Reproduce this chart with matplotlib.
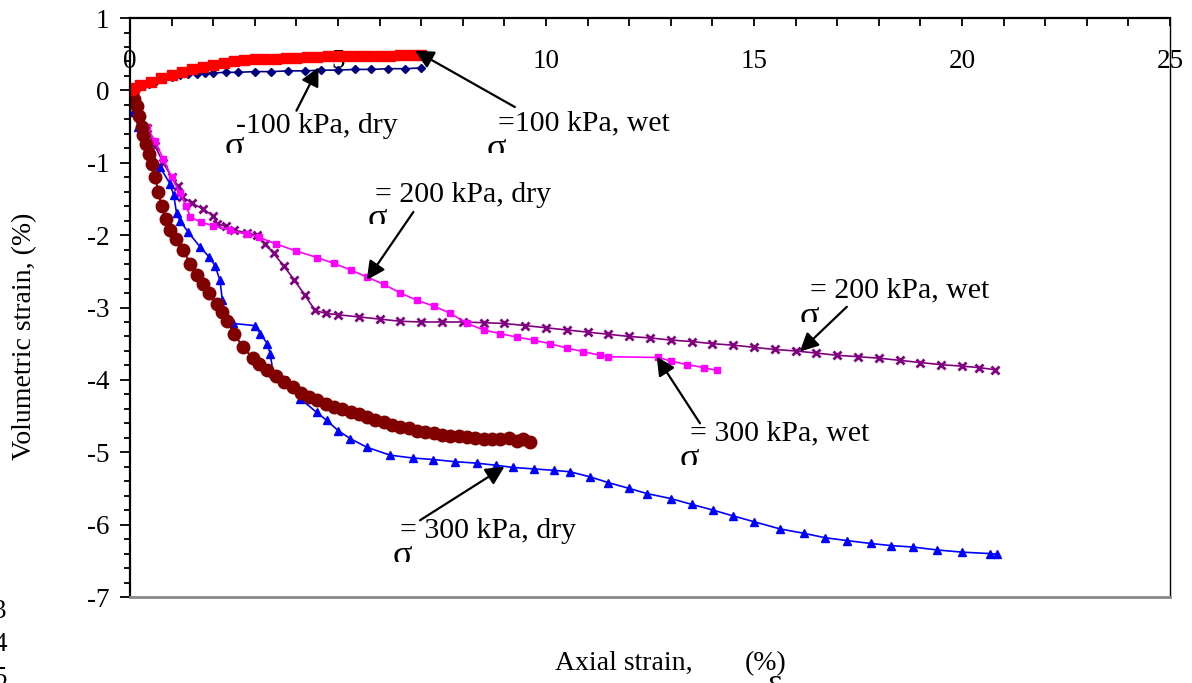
import numpy as np
import matplotlib
matplotlib.use("Agg")
import matplotlib.pyplot as plt
from matplotlib.ticker import MultipleLocator
from matplotlib.transforms import Bbox, TransformedBbox

plt.rcParams['font.family'] = ['Liberation Serif', 'DejaVu Serif']
plt.rcParams['axes.unicode_minus'] = False

# 100 kPa, wet (red squares)
x_100w = [0, 0.1, 0.25, 0.5, 0.75, 1.0, 1.25, 1.5, 1.75, 2.0, 2.25, 2.5, 2.75, 3.0, 3.25,
          3.5, 3.75, 4.0, 4.25, 4.5, 4.75, 5.0, 5.25, 5.5, 5.75, 6.0, 6.25, 6.5, 6.75, 7.0]
y_100w = [0, 0.03, 0.07, 0.12, 0.17, 0.21, 0.25, 0.29, 0.32, 0.35, 0.38, 0.40, 0.42, 0.43, 0.43,
          0.44, 0.45, 0.45, 0.46, 0.46, 0.47, 0.47, 0.47, 0.48, 0.48, 0.48, 0.48, 0.49, 0.49, 0.49]

# 100 kPa, dry (navy diamonds)
x_100d = [0, 0.1, 0.2, 0.3, 0.45, 0.6, 0.8, 1.0, 1.2, 1.4, 1.6, 1.8, 2.0, 2.3, 2.6, 3.0,
          3.4, 3.8, 4.2, 4.6, 5.0, 5.4, 5.8, 6.2, 6.6, 7.0]
y_100d = [0, 0.02, 0.04, 0.06, 0.09, 0.12, 0.16, 0.19, 0.21, 0.22, 0.23, 0.24, 0.24, 0.25, 0.25, 0.26,
          0.26, 0.27, 0.27, 0.28, 0.28, 0.29, 0.29, 0.30, 0.30, 0.31]

# 200 kPa, dry (magenta squares)
x_200d = [0, 0.2, 0.4, 0.6, 0.8, 1.0, 1.2, 1.35, 1.45, 1.7, 2.0, 2.4, 2.8, 3.1, 3.5, 4.0, 4.5,
          4.9, 5.3, 5.7, 6.1, 6.5, 6.9, 7.3, 7.7, 8.1, 8.5, 8.9, 9.3, 9.7, 10.1, 10.5, 10.9,
          11.3, 11.5, 12.7, 13.0, 13.4, 13.8, 14.1]
y_200d = [0, -0.25, -0.5, -0.7, -0.95, -1.2, -1.42, -1.6, -1.75, -1.82, -1.87, -1.93, -1.99,
          -2.03, -2.12, -2.22, -2.31, -2.39, -2.48, -2.58, -2.68, -2.80, -2.90, -2.98, -3.08,
          -3.22, -3.31, -3.36, -3.41, -3.45, -3.50, -3.56, -3.61, -3.66, -3.68, -3.69, -3.74,
          -3.79, -3.83, -3.87]

# 200 kPa, wet (purple crosses)
x_200w = [0, 0.2, 0.4, 0.6, 0.8, 1.0, 1.15, 1.25, 1.5, 1.75, 2.0, 2.1, 2.3, 2.5, 2.8, 3.05,
          3.25, 3.45, 3.7, 3.95, 4.2, 4.45, 4.7, 5.0, 5.5, 6.0, 6.5, 7.0, 7.5, 8.0, 8.5, 9.0,
          9.5, 10.0, 10.5, 11.0, 11.5, 12.0, 12.5, 13.0, 13.5, 14.0, 14.5, 15.0, 15.5, 16.0,
          16.5, 17.0, 17.5, 18.0, 18.5, 19.0, 19.5, 20.0, 20.4, 20.8]
y_200w = [0, -0.28, -0.52, -0.77, -1.0, -1.2, -1.32, -1.47, -1.56, -1.64, -1.73, -1.84, -1.88,
          -1.93, -1.97, -2.0, -2.12, -2.25, -2.43, -2.62, -2.83, -3.04, -3.08, -3.1, -3.13,
          -3.16, -3.19, -3.2, -3.2, -3.2, -3.21, -3.22, -3.25, -3.28, -3.31, -3.34, -3.37,
          -3.40, -3.42, -3.45, -3.47, -3.50, -3.52, -3.55, -3.58, -3.60, -3.63, -3.66, -3.68,
          -3.70, -3.73, -3.76, -3.79, -3.81, -3.83, -3.86]

# 300 kPa, dry (blue triangles)
x_300d = [0, 0.08, 0.2, 0.4, 0.72, 0.96, 1.05, 1.12, 1.2, 1.4, 1.68, 1.9, 2.04, 2.16, 2.22,
          2.28, 2.48, 3.0, 3.13, 3.3, 3.37, 3.44, 3.77, 4.09, 4.49, 4.73, 5.0, 5.29, 5.69,
          6.25, 6.8, 7.29, 7.8, 8.33, 8.8, 9.21, 9.7, 10.2, 10.58, 11.06, 11.5, 12.0, 12.42,
          13.0, 13.5, 14.02, 14.5, 15.0, 15.63, 16.2, 16.7, 17.23, 17.8, 18.3, 18.83, 19.4,
          20.0, 20.67, 20.85]
y_300d = [0, -0.3, -0.5, -0.74, -1.06, -1.29, -1.45, -1.7, -1.8, -1.96, -2.16, -2.3, -2.42,
          -2.62, -2.9, -3.13, -3.22, -3.25, -3.36, -3.5, -3.64, -3.91, -4.0, -4.26, -4.45,
          -4.56, -4.7, -4.81, -4.93, -5.04, -5.08, -5.10, -5.13, -5.15, -5.18, -5.21, -5.23,
          -5.25, -5.27, -5.34, -5.42, -5.50, -5.57, -5.64, -5.72, -5.80, -5.88, -5.96, -6.06,
          -6.12, -6.18, -6.22, -6.26, -6.29, -6.31, -6.35, -6.38, -6.40, -6.41]

# 300 kPa, wet (maroon circles)
x_300w = [0, 0.1, 0.16, 0.22, 0.28, 0.32, 0.38, 0.45, 0.52, 0.6, 0.68, 0.76, 0.86, 0.96, 1.1,
          1.28, 1.45, 1.6, 1.75, 1.9, 2.08, 2.2, 2.32, 2.5, 2.72, 2.95, 3.1, 3.29, 3.5, 3.7,
          3.92, 4.1, 4.3, 4.5, 4.7, 4.9, 5.1, 5.3, 5.5, 5.7, 5.9, 6.1, 6.3, 6.5, 6.7, 6.9,
          7.1, 7.3, 7.5, 7.7, 7.9, 8.1, 8.3, 8.5, 8.7, 8.9, 9.1, 9.3, 9.45, 9.62]
y_300w = [0, -0.12, -0.22, -0.35, -0.5, -0.62, -0.74, -0.88, -1.02, -1.2, -1.4, -1.6, -1.78,
          -1.93, -2.05, -2.21, -2.4, -2.55, -2.67, -2.8, -2.95, -3.06, -3.18, -3.36, -3.55,
          -3.7, -3.78, -3.87, -3.95, -4.03, -4.1, -4.18, -4.23, -4.28, -4.33, -4.37, -4.4,
          -4.44, -4.47, -4.51, -4.55, -4.58, -4.62, -4.65, -4.67, -4.7, -4.72, -4.74, -4.76,
          -4.77, -4.78, -4.79, -4.8, -4.81, -4.82, -4.81, -4.8, -4.85, -4.82, -4.86]

# annotation labels, arrows and the clipped sigma signs under them
labels = ["-100 kPa, dry", "=100 kPa, wet", "= 200 kPa, dry",
          "= 200 kPa, wet", "= 300 kPa, wet", "= 300 kPa, dry"]
label_xy = [(2.55, -0.49), (8.85, -0.46), (5.89, -1.45), (16.35, -2.76), (13.46, -4.74), (6.49, -6.09)]
arrow_from = [(4.0, -0.28), (9.25, -0.23), (6.81, -1.68), (17.23, -2.99), (13.7, -4.6), (6.97, -5.94)]
arrow_to = [(4.53, 0.32), (6.85, 0.55), (5.69, -2.62), (16.1, -3.61), (12.66, -3.68), (9.0, -5.2)]
sigma_xy = [(2.28, -0.90), (8.58, -0.93), (5.72, -1.90), (16.1, -3.25), (13.2, -5.22), (6.3, -6.56)]
sigma_cut = [-0.86, -0.86, -1.85, -3.2, -5.17, -6.52]

fig = plt.figure(figsize=(11.92, 6.83), dpi=100)
ax = fig.add_axes([0.1091, 0.1259, 0.8725, 0.8477])

ax.plot(x_200w, y_200w, color='purple', marker='x', ms=5.5, mew=2, lw=1.2)
ax.plot(x_200d, y_200d, color='magenta', marker='s', ms=4, lw=1.2)
ax.plot(x_300d, y_300d, color='blue', marker='^', ms=5.5, lw=1.2)
ax.plot(x_300w, y_300w, color='#800000', marker='o', ms=9, lw=1.5)
ax.plot(x_100d, y_100d, color='#000080', marker='D', ms=4, lw=1.2)
ax.plot(x_100w, y_100w, color='red', marker='s', ms=7, lw=2)

ax.set_xlim(0, 25)
ax.set_ylim(-7, 1)

ax.xaxis.set_major_locator(MultipleLocator(5))
ax.xaxis.set_minor_locator(MultipleLocator(1))
ax.yaxis.set_major_locator(MultipleLocator(1))
ax.yaxis.set_minor_locator(MultipleLocator(0.2))

ax.tick_params(axis='x', which='both', top=True, bottom=False, labeltop=True, labelbottom=False,
               direction='in', length=6, width=1.3)
ax.tick_params(axis='x', which='major', pad=-40, labelsize=19.5)
ax.tick_params(axis='y', which='major', direction='out', length=7, width=1.3, pad=8, labelsize=19.5)
ax.tick_params(axis='y', which='minor', direction='out', length=4.5, width=1.3)

for s in ['left', 'top']:
    ax.spines[s].set_linewidth(1.6)
ax.spines['right'].set_linewidth(1.0)
ax.spines['bottom'].set_color('#888888')
ax.spines['bottom'].set_linewidth(2)

for txt, (tx, ty), a0, a1 in zip(labels, label_xy, arrow_from, arrow_to):
    ax.text(tx, ty, txt, fontsize=21.5, ha='left', va='center')
    ax.annotate('', xy=a1, xytext=a0,
                arrowprops=dict(arrowstyle='-|>', mutation_scale=28, lw=1.6, color='black',
                                shrinkA=0, shrinkB=0))

for (sx, sy), cut in zip(sigma_xy, sigma_cut):
    t = ax.text(sx, sy, 'σ', fontsize=26, ha='left', va='baseline')
    t.set_clip_box(TransformedBbox(Bbox.from_extents(0, cut, 25, 1), ax.transData))
    t.set_clip_on(True)

fig.text(25 / 1192, 1 - 336 / 683, 'Volumetric strain, (%)', rotation=90, fontsize=20,
         ha='center', va='center')
fig.text(555 / 1192, 1 - 670 / 683, 'Axial strain,', fontsize=20, ha='left', va='baseline')
fig.text(745 / 1192, 1 - 670 / 683, '(%)', fontsize=20, ha='left', va='baseline')
fig.text(768 / 1192, 1 - 692 / 683, 'ε', fontsize=24, ha='left', va='baseline')

for num, py in zip(['3', '4', '5'], [618, 651, 685]):
    fig.text(-7 / 1192, 1 - py / 683, num, fontsize=19.5, ha='left', va='baseline')

fig.savefig('out.png', dpi=100)
